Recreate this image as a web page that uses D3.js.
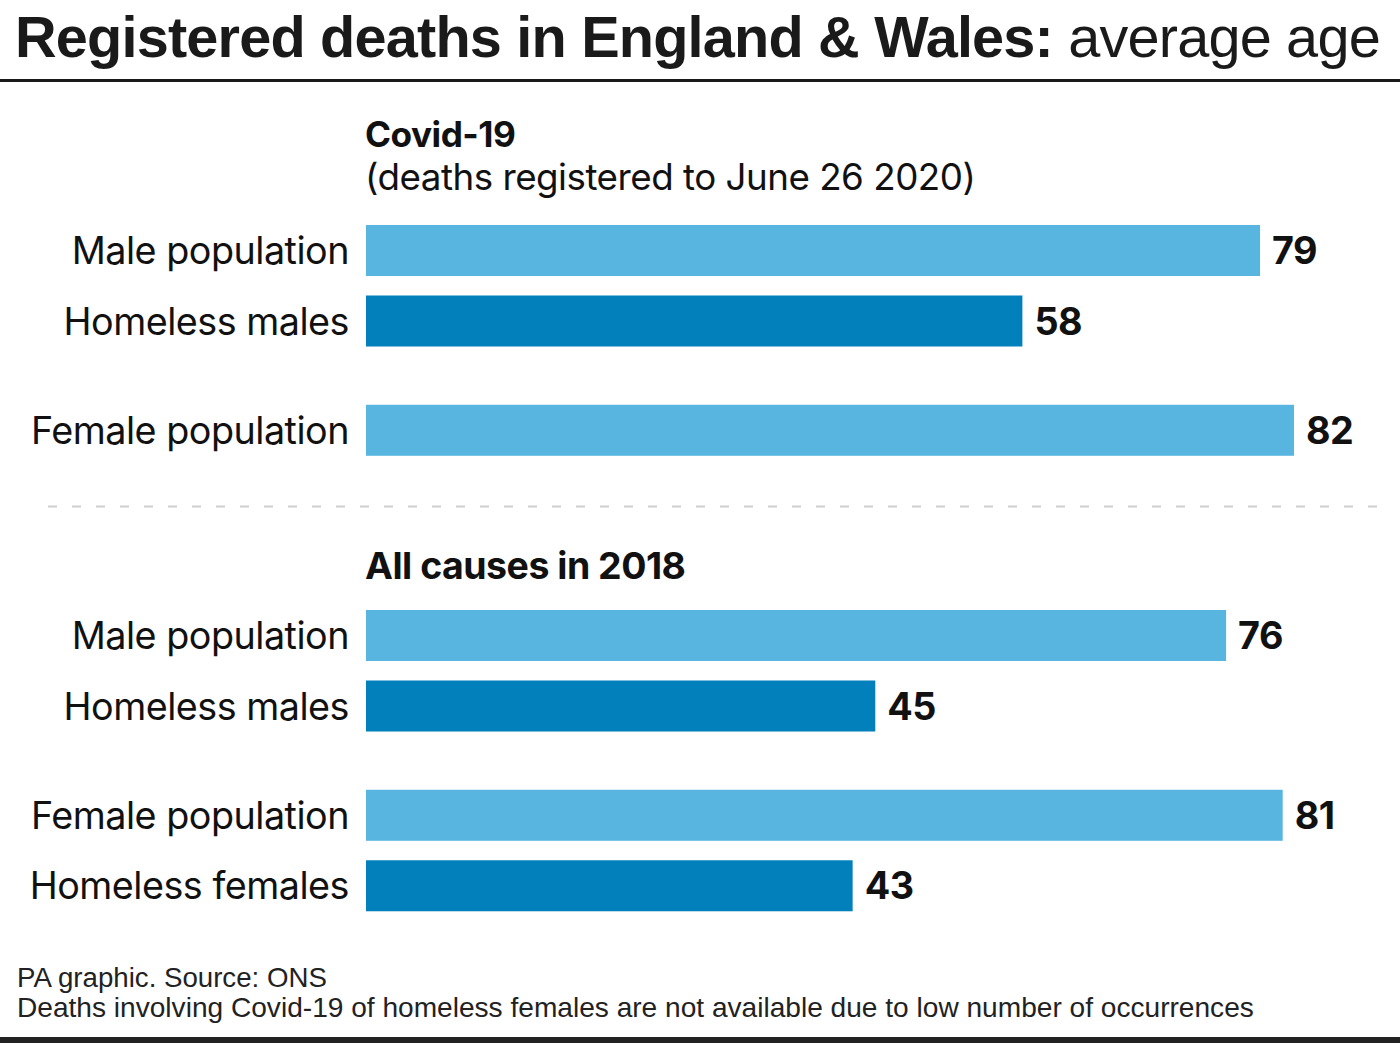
<!DOCTYPE html>
<html><head><meta charset="utf-8">
<script src="https://cdn.jsdelivr.net/npm/d3@7"></script>
<style>
html,body{margin:0;padding:0;background:#fff;}
svg{display:block;}
</style></head>
<body>
<svg id="chart" width="1400" height="1043"></svg>
<script>
// ---- data ----
const titleBold = "Registered deaths in England & Wales:";
const titleRegular = " average age";
const sectionTitles = ["Covid-19", "All causes in 2018"];
const sectionSubtitles = ["(deaths registered to June 26 2020)", ""];
const categories = ["Male population", "Homeless males", "Female population", "Homeless females"];
const covidValues = [79, 58, 82, null];
const allCausesValues = [76, 45, 81, 43];
const footerLines = ["PA graphic. Source: ONS",
  "Deaths involving Covid-19 of homeless females are not available due to low number of occurrences"];

const seriesBySection = [covidValues, allCausesValues];
const lightBlue = "#57b5df", darkBlue = "#0180bc";

const svg = d3.select("#chart");
const W = 1400, H = 1043;

function fitSize(sel, target) {
  const s = parseFloat(sel.attr("font-size"));
  const w = sel.node().getComputedTextLength();
  sel.attr("font-size", s * target / w);
  return s * target / w;
}
// horizontally condense a text (in its own group) to a target width
function fitScaleX(x0, y0, sel, target) {
  const w = sel.node().getComputedTextLength();
  const sx = target / w;
  sel.attr("x", 0).attr("y", 0);
  d3.select(sel.node().parentNode).attr("transform", `translate(${x0},${y0}) scale(${sx},1)`);
}

// ---- title ----
const tg = svg.append("g");
const title = tg.append("text")
  .attr("font-family", "'Liberation Sans', Arial, sans-serif")
  .attr("font-size", 57).attr("fill", "#1a1a1a").attr("letter-spacing", -0.8);
title.append("tspan").attr("font-weight", "bold").text(titleBold);
title.append("tspan").attr("font-weight", "normal").text(titleRegular);
fitScaleX(15, 57, title, 1365);

svg.append("rect").attr("x", 0).attr("y", 79).attr("width", W).attr("height", 3).attr("fill", "#1a1a1a");

// ---- scales ----
const maxVal = d3.max(seriesBySection.flat());
const x = d3.scaleLinear().domain([0, maxVal]).range([366, 1294]);
// slot index: row within group + group offset
const slot = d3.scaleOrdinal().domain(categories).range([0, 1, 2.55, 3.55]);
const y = d3.scaleLinear().domain([0, 1]).range([0, 70.5]);
const sectionTop = d3.scaleOrdinal().domain(sectionTitles).range([225, 610]);
const barH = 51;

const labelFont = "Inter, 'Noto Sans', sans-serif";
let labelSize = 33;
{
  const t = svg.append("text").attr("font-family", labelFont).attr("font-size", 33)
    .attr("letter-spacing", -0.5).text("Female population");
  labelSize = fitSize(t, 317);
  t.remove();
}

sectionTitles.forEach((sec, si) => {
  const top = sectionTop(sec);
  const g = svg.append("g");
  const headY = si === 0 ? 147 : 579;
  const h = g.append("text").attr("x", 365).attr("y", headY)
    .attr("font-family", labelFont).attr("font-weight", 700).attr("font-size", 32)
    .attr("fill", "#111").attr("letter-spacing", -0.5).text(sec);
  if (si === 1) fitSize(h, 319); else fitSize(h, 150);
  if (sectionSubtitles[si]) {
    const st = g.append("text").attr("x", 365).attr("y", 190)
      .attr("font-family", labelFont).attr("font-size", 32).attr("fill", "#111")
      .attr("letter-spacing", -0.5).text(sectionSubtitles[si]);
    fitSize(st, 608);
  }
  const vals = seriesBySection[si];
  const data = categories.map((c, i) => ({c, v: vals[i], i})).filter(d => d.v != null);
  g.selectAll("rect.bar").data(data).join("rect").attr("class", "bar")
    .attr("x", x(0)).attr("y", d => top + y(slot(d.c)))
    .attr("width", d => x(d.v) - x(0)).attr("height", barH)
    .attr("fill", d => d.i % 2 === 0 ? lightBlue : darkBlue);
  g.selectAll("text.cat").data(data).join("text").attr("class", "cat")
    .attr("x", 349).attr("y", d => top + y(slot(d.c)) + barH / 2)
    .attr("dy", "0.36em").attr("text-anchor", "end")
    .attr("font-family", labelFont).attr("font-size", labelSize).attr("fill", "#111")
    .attr("letter-spacing", -0.5).text(d => d.c);
  g.selectAll("text.val").data(data).join("text").attr("class", "val")
    .attr("x", d => x(d.v) + 12).attr("y", d => top + y(slot(d.c)) + barH / 2)
    .attr("dy", "0.36em")
    .attr("font-family", labelFont).attr("font-weight", 700).attr("font-size", labelSize).attr("fill", "#111")
    .attr("letter-spacing", -0.5).text(d => d.v);
});

// dashed divider
svg.append("line").attr("x1", 48).attr("x2", 1383).attr("y1", 506.5).attr("y2", 506.5)
  .attr("stroke", "#cfcfcf").attr("stroke-width", 2).attr("stroke-dasharray", "9,15");

// footer
const fy = [987, 1017];
footerLines.forEach((t, i) => {
  const fg = svg.append("g");
  const ft = fg.append("text")
    .attr("font-family", "'Liberation Sans', Arial, sans-serif").attr("font-size", 27.5)
    .attr("fill", "#222").text(t);
  fitScaleX(17, fy[i], ft, i === 0 ? 310 : 1237);
});
svg.append("rect").attr("x", 0).attr("y", 1037).attr("width", W).attr("height", 6).attr("fill", "#222");
</script>
</body></html>
